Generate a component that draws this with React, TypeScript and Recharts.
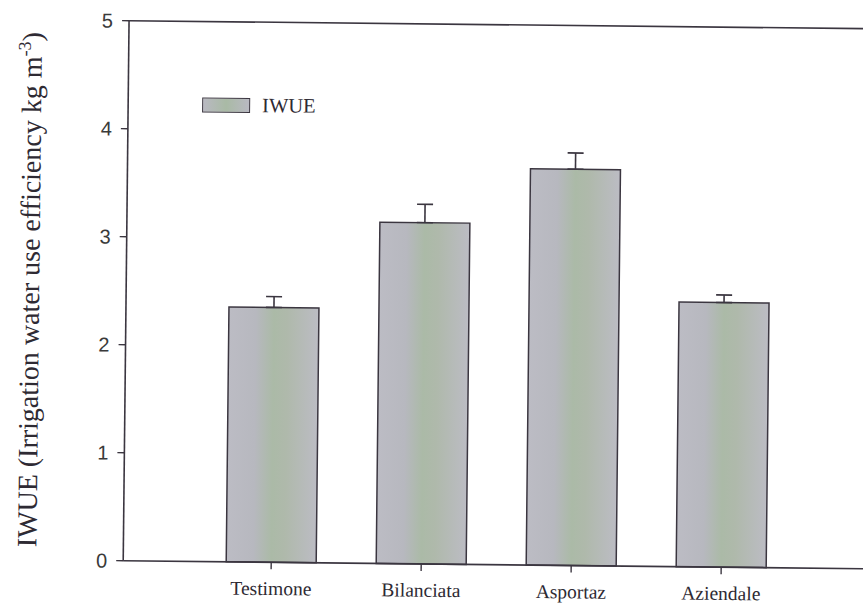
import { BarChart, Bar, XAxis, YAxis, ErrorBar, Legend, ReferenceLine } from 'recharts';

const categories = ['Testimone', 'Bilanciata', 'Asportaz', 'Aziendale'];
const iwueValues = [2.36, 3.16, 3.67, 2.45];
const iwueErrors = [0.1, 0.17, 0.15, 0.07];
const yTicks = [0, 1, 2, 3, 4, 5];

const data = categories.map((name, i) => ({
  name,
  iwue: iwueValues[i],
  err: [0, iwueErrors[i]],
}));

const ink = '#3b3640';
const serif = '"Liberation Serif", "Times New Roman", serif';
const sans = '"Liberation Sans", Arial, sans-serif';

// rotated axis title with the m-3 superscript
const YTitle = (props: any) => {
  const vb = props.viewBox || {};
  const cy = vb.y + vb.height / 2;
  const x = 39;
  return (
    <text
      x={x}
      y={cy}
      transform={`rotate(-90, ${x}, ${cy})`}
      textAnchor="middle"
      fontFamily={serif}
      fontSize={28}
      fill="#2e2a33"
    >
      IWUE (Irrigation water use efficiency kg m
      <tspan dy={-11} fontSize={18}>-3</tspan>
      <tspan dy={11}>)</tspan>
    </text>
  );
};

const LegendBox = () => (
  <div style={{ display: 'flex', alignItems: 'center', fontFamily: serif, fontSize: 20.5, color: '#2e2a33' }}>
    <span
      style={{
        display: 'inline-block',
        width: 46,
        height: 13,
        border: `1.5px solid ${ink}`,
        background: 'linear-gradient(to right, #b9b9c2, #a9baa5 50%, #b9b9c2)',
      }}
    />
    <span style={{ marginLeft: 12 }}>IWUE</span>
  </div>
);

export default function App() {
  return (
    <div style={{ position: 'fixed', inset: 0, overflow: 'hidden', background: '#fff' }}>
      <div
        style={{
          position: 'absolute',
          left: 0,
          top: 0,
          transform: 'rotate(0.62deg)',
          transformOrigin: '431.5px 304.5px',
        }}
      >
        <BarChart
          width={900}
          height={620}
          data={data}
          margin={{ top: 24, right: 26, left: 0, bottom: 11 }}
        >
          <defs>
            <linearGradient id="barFill" x1="0" y1="0" x2="1" y2="0">
              <stop offset="0%" stopColor="#bcbcc4" />
              <stop offset="30%" stopColor="#b7b8bf" />
              <stop offset="50%" stopColor="#abbaa7" />
              <stop offset="65%" stopColor="#afb9ab" />
              <stop offset="100%" stopColor="#bcbcc4" />
            </linearGradient>
          </defs>
          <XAxis
            dataKey="name"
            height={45}
            padding={{ left: 73, right: 75 }}
            axisLine={{ stroke: ink, strokeWidth: 1.6 }}
            tickLine={{ stroke: ink, strokeWidth: 1.4 }}
            tickSize={7}
            tickMargin={12}
            tick={{ fontFamily: serif, fontSize: 19.5, fill: '#2e2a33' }}
          />
          <YAxis
            width={126}
            domain={[0, 5]}
            ticks={yTicks}
            interval={0}
            axisLine={{ stroke: ink, strokeWidth: 1.6 }}
            tickLine={{ stroke: ink, strokeWidth: 1.4 }}
            tickSize={7}
            tickMargin={9}
            tick={{ fontFamily: sans, fontSize: 20, fill: '#3a3a3a' }}
            label={<YTitle />}
          />
          <ReferenceLine y={5} stroke={ink} strokeWidth={1.6} />
          <Legend
            layout="horizontal"
            verticalAlign="middle"
            align="center"
            wrapperStyle={{ top: 96, left: 200, width: 'auto' }}
            content={() => <LegendBox />}
          />
          <Bar
            dataKey="iwue"
            name="IWUE"
            fill="url(#barFill)"
            stroke={ink}
            strokeWidth={1.5}
            barSize={90}
            isAnimationActive={false}
          >
            <ErrorBar dataKey="err" direction="y" width={8} stroke={ink} strokeWidth={1.6} />
          </Bar>
        </BarChart>
      </div>
    </div>
  );
}
